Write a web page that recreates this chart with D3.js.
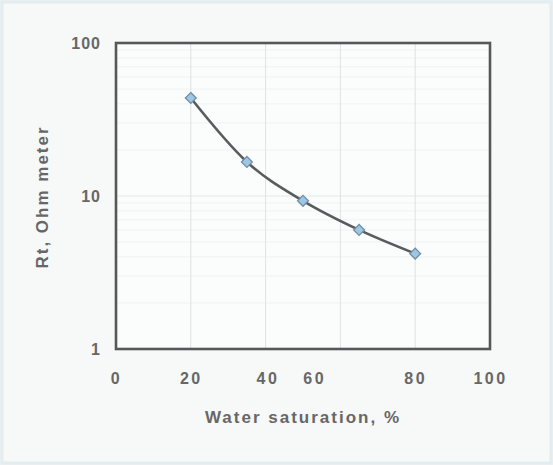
<!DOCTYPE html>
<html>
<head>
<meta charset="utf-8">
<script src="https://cdn.jsdelivr.net/npm/d3@7"></script>
<style>
  body { margin: 0; background: #eef3f3; }
  text { font-family: "Liberation Sans", Arial, sans-serif; font-weight: bold; fill: #676767; }
</style>
</head>
<body>
<div id="chart"></div>
<script>
// Water saturation (%) vs Rt (ohm meter)
var saturation = [20, 35, 50, 65, 80];
var resistivity = [43.7, 16.7, 9.3, 6.0, 4.2];

// x tick labels, as placed in the original picture (40 and 60 sit off their gridlines)
var xTickLabels = ["0", "20", "40", "60", "80", "100"];
var xTickAt = [0, 20, 40.5, 53, 80, 100];
var xGrid = [20, 40, 60, 80];
var yTicks = [1, 10, 100];

var w = 553;
var h = 465;
var margin = {left: 116, right: 63, top: 43, bottom: 116};

var xscale = d3.scaleLinear()
                .domain([0, 100])
                .range([margin.left, w - margin.right]);

var yscale = d3.scaleLog()
                .domain([1, 100])
                .range([h - margin.bottom, margin.top]);

var svg = d3.select("#chart")
            .append("svg")
            .attr("width", w)
            .attr("height", h);

// page background + faint frame
svg.append("rect")
    .attr("x", 2).attr("y", 2)
    .attr("width", w - 4).attr("height", h - 4)
    .attr("fill", "#f6f9f8")
    .attr("stroke", "#e3ecef")
    .attr("stroke-width", 3);

// plot area
svg.append("rect")
    .attr("x", xscale(0)).attr("y", yscale(100))
    .attr("width", xscale(100) - xscale(0))
    .attr("height", yscale(1) - yscale(100))
    .attr("fill", "#fbfcfc");

// minor log gridlines (very faint)
var minor = yscale.ticks().filter(function(d) { return yTicks.indexOf(d) < 0; });
svg.append("g")
    .selectAll("line")
    .data(minor)
    .enter()
    .append("line")
    .attr("x1", xscale(0)).attr("x2", xscale(100))
    .attr("y1", function(d) { return yscale(d); })
    .attr("y2", function(d) { return yscale(d); })
    .attr("stroke", "#eff3f3")
    .attr("stroke-width", 1);

svg.append("g")
    .selectAll("line")
    .data([10])
    .enter()
    .append("line")
    .attr("x1", xscale(0)).attr("x2", xscale(100))
    .attr("y1", function(d) { return yscale(d); })
    .attr("y2", function(d) { return yscale(d); })
    .attr("stroke", "#e6eaeb")
    .attr("stroke-width", 1);

// vertical gridlines
svg.append("g")
    .selectAll("line")
    .data(xGrid)
    .enter()
    .append("line")
    .attr("x1", function(d) { return xscale(d); })
    .attr("x2", function(d) { return xscale(d); })
    .attr("y1", yscale(100)).attr("y2", yscale(1))
    .attr("stroke", "#dde2e3")
    .attr("stroke-width", 1);

// curve
var line = d3.line()
    .x(function(d) { return xscale(d[0]); })
    .y(function(d) { return yscale(d[1]); })
    .curve(d3.curveMonotoneX);

var pts = d3.zip(saturation, resistivity);

svg.append("path")
    .datum(pts)
    .attr("d", line)
    .attr("fill", "none")
    .attr("stroke", "#585c5c")
    .attr("stroke-width", 2.6);

// diamond markers
svg.append("g")
    .selectAll("path")
    .data(pts)
    .enter()
    .append("path")
    .attr("d", d3.symbol().type(d3.symbolDiamond2).size(75))
    .attr("transform", function(d) {
        return "translate(" + xscale(d[0]) + "," + yscale(d[1]) + ")";
    })
    .attr("fill", "#9fc6e2")
    .attr("stroke", "#6f8fa6")
    .attr("stroke-width", 1.3);

// plot box
svg.append("rect")
    .attr("x", xscale(0)).attr("y", yscale(100))
    .attr("width", xscale(100) - xscale(0))
    .attr("height", yscale(1) - yscale(100))
    .attr("fill", "none")
    .attr("stroke", "#555858")
    .attr("stroke-width", 2.6);

// y axis labels
var yaxis = d3.axisLeft(yscale)
    .tickValues(yTicks)
    .tickFormat(d3.format("d"))
    .tickSize(0)
    .tickPadding(15);

var gy = svg.append("g")
    .attr("class", "y axis")
    .attr("transform", "translate(" + xscale(0) + ",0)")
    .call(yaxis);
gy.select(".domain").remove();
gy.selectAll("text")
    .style("font-size", "16px")
    .style("letter-spacing", "1px")
    .attr("fill", "#676767");

// x axis labels
var xaxis = d3.axisBottom(xscale)
    .tickValues(xTickAt)
    .tickFormat(function(d, i) { return xTickLabels[i]; })
    .tickSize(0)
    .tickPadding(24);

var gx = svg.append("g")
    .attr("class", "x axis")
    .attr("transform", "translate(0," + yscale(1) + ")")
    .call(xaxis);
gx.select(".domain").remove();
gx.selectAll("text")
    .style("font-size", "16px")
    .style("letter-spacing", "2.5px")
    .attr("fill", "#676767");

// axis titles
svg.append("text")
    .attr("x", 303)
    .attr("y", 423)
    .attr("text-anchor", "middle")
    .style("font-size", "17px")
    .style("letter-spacing", "2px")
    .text("Water saturation, %");

svg.append("text")
    .attr("transform", "translate(48,197) rotate(-90)")
    .attr("text-anchor", "middle")
    .style("font-size", "17px")
    .style("letter-spacing", "2px")
    .text("Rt, Ohm meter");
</script>
</body>
</html>
